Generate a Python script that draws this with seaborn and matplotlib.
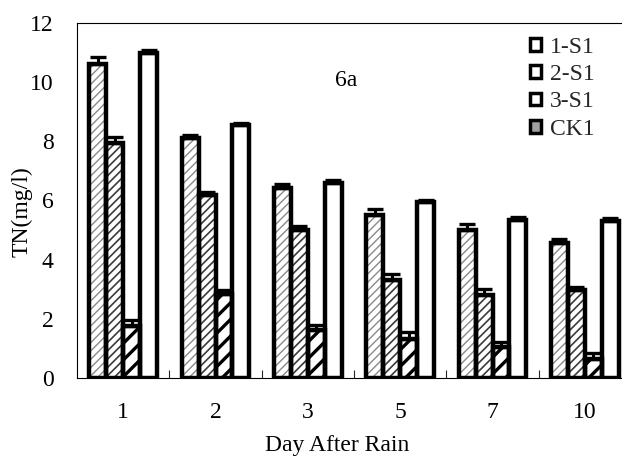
import numpy as np
import pandas as pd
import matplotlib
matplotlib.use("Agg")
import matplotlib.pyplot as plt
import seaborn as sns
from matplotlib.patches import Patch, Rectangle

days = ["1", "2", "3", "5", "7", "10"]
series = ["1-S1", "2-S1", "3-S1", "CK1"]

s1 = [10.62, 8.10, 6.41, 5.51, 5.00, 4.57]
s2 = [7.95, 6.19, 5.00, 3.31, 2.80, 2.98]
s3 = [1.75, 2.85, 1.63, 1.32, 1.05, 0.65]
ck1 = [11.00, 8.55, 6.58, 5.95, 5.35, 5.30]

e1 = [0.22, 0.10, 0.16, 0.20, 0.22, 0.12]
e2 = [0.20, 0.10, 0.15, 0.20, 0.22, 0.10]
e3 = [0.22, 0.12, 0.15, 0.25, 0.18, 0.20]
e4 = [0.10, 0.08, 0.10, 0.08, 0.08, 0.10]

values = [s1, s2, s3, ck1]
errors = [e1, e2, e3, e4]

rows = []
for name, vals in zip(series, values):
    for d, v in zip(days, vals):
        rows.append({"day": d, "series": name, "TN": v})
df = pd.DataFrame(rows)

sns.set_theme(style="white")
plt.rcParams["font.family"] = ["Liberation Serif", "DejaVu Serif"]
plt.rcParams["hatch.linewidth"] = 1.0

fig = plt.figure(figsize=(6.22, 4.59), dpi=100)
ax = fig.add_axes([0.1238, 0.1765, 0.8907, 0.7734])

sns.barplot(data=df, x="day", y="TN", hue="series", order=days, hue_order=series,
            palette=["white"] * 4, edgecolor="black", linewidth=3.2,
            width=0.735, errorbar=None, legend=False, ax=ax)

# hatch styles: (pattern, colour, hatch width)
hatches = [("////", "#8a8a8a", 1.0), ("////", "#3a3a3a", 1.2), ("//", "black", 2.4), (None, None, None)]

for cont, errs, (hp, hc, hw) in zip(ax.containers, errors, hatches):
    xs, ys = [], []
    for bar in cont:
        xs.append(bar.get_x() + bar.get_width() / 2)
        ys.append(bar.get_height())
        if hp is not None:
            bar.set_hatch(hp)
            bar.set_edgecolor(hc)
            bar.set_linewidth(0)
            if hasattr(bar, "set_hatch_linewidth"):
                bar.set_hatch_linewidth(hw)
            ax.add_patch(Rectangle(bar.get_xy(), bar.get_width(), bar.get_height(),
                                   fill=False, edgecolor="black", linewidth=3.2, zorder=3))
    ax.errorbar(xs, ys, yerr=[np.zeros(len(errs)), errs], fmt="none", ecolor="black",
                elinewidth=2.2, capsize=5.5, capthick=2.4, zorder=4)

ax.set_xlim(-0.5, 5.5)
ax.set_ylim(0, 12)
ax.set_yticks(np.arange(0, 13, 2))
ax.set_xticks(range(len(days)))
ax.set_xticklabels(days)
ax.set_xticks(np.arange(0.5, 5, 1), minor=True)

ax.tick_params(axis="y", direction="in", length=6, width=0.8, pad=17, labelsize=17, colors="black")
ax.tick_params(axis="x", which="major", length=0, pad=17, labelsize=17, colors="black")
ax.tick_params(axis="x", which="minor", direction="in", length=6, width=0.8, bottom=True)

for sp in ["left", "top", "bottom"]:
    ax.spines[sp].set_color("black")
    ax.spines[sp].set_linewidth(0.8)
ax.spines["right"].set_visible(False)

ax.set_xlabel("Day After Rain", fontsize=17, color="black")
ax.set_ylabel("TN(mg/l)", fontsize=17, color="black")
ax.xaxis.set_label_coords(0.47, -0.16)
ax.yaxis.set_label_coords(-0.081, 0.47)

ax.text(2.41, 10.07, "6a", ha="center", va="center", fontsize=17, color="black")

handles = [Patch(facecolor="white", edgecolor="black", linewidth=2.5, label="1-S1"),
           Patch(facecolor="white", edgecolor="black", linewidth=2.5, label="2-S1"),
           Patch(facecolor="white", edgecolor="black", linewidth=2.5, label="3-S1"),
           Patch(facecolor="#a0a0a0", edgecolor="black", linewidth=2.5, label="CK1")]
ax.legend(handles=handles, loc="upper left", bbox_to_anchor=(0.852, 0.92),
          bbox_transform=fig.transFigure, frameon=False, fontsize=17,
          handlelength=0.45, handleheight=0.45, handletextpad=0.4,
          labelspacing=0.27, borderpad=0, borderaxespad=0)

fig.savefig("out.png", dpi=100)
